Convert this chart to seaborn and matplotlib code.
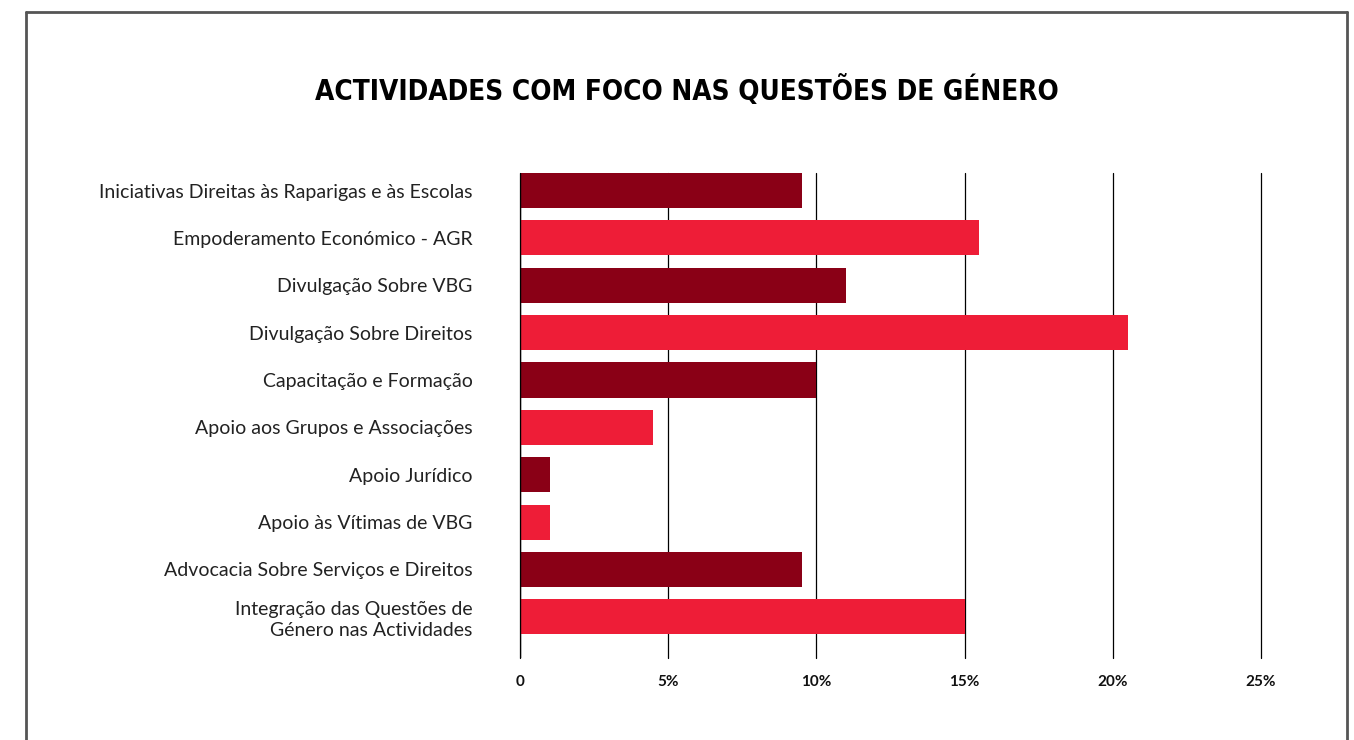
import matplotlib
matplotlib.use("Agg")
import matplotlib.pyplot as plt
from matplotlib.lines import Line2D
import seaborn as sns
import pandas as pd

categories = [
    "Iniciativas Direitas às Raparigas e às Escolas",
    "Empoderamento Económico - AGR",
    "Divulgação Sobre VBG",
    "Divulgação Sobre Direitos",
    "Capacitação e Formação",
    "Apoio aos Grupos e Associações",
    "Apoio Jurídico",
    "Apoio às Vítimas de VBG",
    "Advocacia Sobre Serviços e Direitos",
    "Integração das Questões de\nGénero nas Actividades",
]
values = [9.5, 15.5, 11, 20.5, 10, 4.5, 1, 1, 9.5, 15]
tick_values = [0, 5, 10, 15, 20, 25]
tick_labels = ["0", "5%", "10%", "15%", "20%", "25%"]
title = "ACTIVIDADES COM FOCO NAS QUESTÕES DE GÉNERO"

dark = "#8A0016"
bright = "#EE1D37"
colors = [dark if i % 2 == 0 else bright for i in range(len(categories))]

sns.set_theme(style="white")
plt.rcParams['font.family'] = ['Lato', 'DejaVu Sans']

df = pd.DataFrame({"cat": categories, "val": values})

W, H = 1354, 740
fig = plt.figure(figsize=(W / 100, H / 100), dpi=100)
ax = fig.add_axes([520 / W, 1 - 658 / H, (1261 - 520) / W, (658 - 173) / H])

sns.barplot(data=df, x="val", y="cat", hue="cat", palette=colors, legend=False,
            orient="h", width=0.74, ax=ax, saturation=1, linewidth=0)

ax.set_xlim(0, 25)
ax.set_ylim(len(categories) - 1 + 0.87, -0.37)
ax.set_xticks(tick_values)
ax.set_xticklabels(tick_labels, fontsize=11, fontweight="bold", color="#111111")
ax.tick_params(axis="x", length=0, pad=12)
ax.tick_params(axis="y", length=0, pad=34)
for lbl in ax.get_yticklabels():
    lbl.set_fontsize(14)
    lbl.set_color("#222222")
    lbl.set_linespacing(1.3)
ax.set_xlabel("")
ax.set_ylabel("")
for s in ax.spines.values():
    s.set_visible(False)
ax.xaxis.grid(True, color="black", linewidth=0.9)
for gl in ax.get_xgridlines():
    gl.set_clip_on(False)
ax.set_axisbelow(True)
ax.axvline(0, color="black", linewidth=1.0, zorder=5)

fig.text(687 / W, 1 - 91 / H, title, ha="center", va="center",
         fontsize=20, fontweight="bold", fontstretch="condensed",
         family=['DejaVu Sans'], color="black")

# frame
fc = "#555555"
fig.add_artist(Line2D([26 / W, 26 / W], [0, 1 - 12 / H], color=fc, lw=2, transform=fig.transFigure))
fig.add_artist(Line2D([1347 / W, 1347 / W], [0, 1 - 12 / H], color=fc, lw=2, transform=fig.transFigure))
fig.add_artist(Line2D([26 / W, 1347 / W], [1 - 12 / H, 1 - 12 / H], color=fc, lw=2, transform=fig.transFigure))

fig.savefig("out.png", dpi=100)
